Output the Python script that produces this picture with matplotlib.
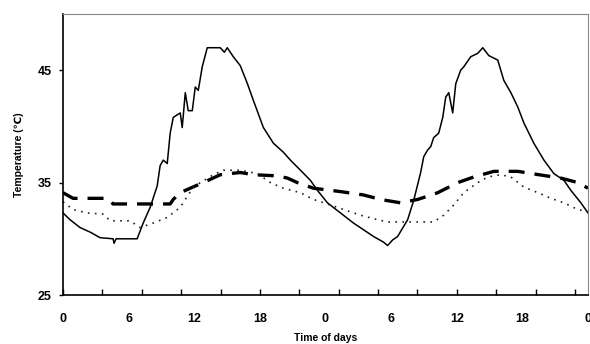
import matplotlib
matplotlib.use("Agg")
import matplotlib.pyplot as plt
import numpy as np

# Solid line (hours, temperature)
solid_h = [0, 0.64, 1.56, 2.47, 3.39, 4.58, 4.67, 4.85, 6.78, 7.33, 7.97, 8.61, 8.88, 9.16, 9.53,
           9.80, 10.08, 10.72, 10.90, 11.18, 11.45, 11.82, 12.09, 12.37, 12.73, 13.19, 14.38,
           14.75, 15.02, 15.57, 16.21, 16.86, 17.41, 18.32, 19.24, 20.15, 20.79, 21.71, 22.62,
           23.27, 24.18, 25.37, 26.56, 27.48, 28.40, 29.31, 29.68, 30.14, 30.59, 31.51, 32.06,
           32.70, 32.98, 33.34, 33.62, 33.89, 34.35, 34.72, 34.99, 35.27, 35.63, 35.91, 36.36,
           36.64, 37.28, 37.92, 38.38, 38.93, 39.75, 40.30, 40.95, 41.59, 42.14, 43.05, 43.97,
           44.88, 45.80, 46.44, 47.35, 48.0]
solid_t = [32.3, 31.7, 31.0, 30.6, 30.1, 30.0, 29.6, 30.0, 30.0, 31.4, 32.8, 34.7, 36.5, 37.0, 36.7,
           39.4, 40.8, 41.2, 39.9, 43.0, 41.4, 41.4, 43.5, 43.2, 45.3, 47.0, 47.0,
           46.6, 47.0, 46.2, 45.4, 43.8, 42.3, 39.9, 38.5, 37.7, 37.0, 36.1, 35.2,
           34.3, 33.2, 32.3, 31.4, 30.8, 30.2, 29.7, 29.4, 29.9, 30.2, 31.7, 33.4,
           35.9, 37.3, 37.9, 38.2, 39.0, 39.4, 40.8, 42.6, 43.0, 41.2, 43.8, 45.0,
           45.3, 46.2, 46.5, 47.0, 46.3, 45.9, 44.1, 43.0, 41.7, 40.3, 38.5, 37.0,
           35.8, 35.2, 34.3, 33.2, 32.3]

# Dashed line
dash_h = [0, 0.92, 4.12, 4.58, 9.80, 10.08, 10.72, 11.63, 12.82, 14.38, 16.21, 17.40, 19.60,
          20.52, 21.43, 22.90, 25.37, 27.48, 29.04, 30.87, 32.43, 34.26, 36.09, 37.56, 39.39,
          41.59, 43.51, 45.53, 47.08, 48.0]
dash_t = [34.1, 33.6, 33.6, 33.1, 33.1, 33.5, 34.1, 34.5, 35.0, 35.7, 35.9, 35.7, 35.6,
          35.4, 35.0, 34.5, 34.2, 33.9, 33.5, 33.2, 33.5, 34.1, 35.0, 35.5, 36.0,
          36.0, 35.7, 35.4, 35.0, 34.5]

# Dotted line
dot_h = [0, 0.92, 2.20, 3.66, 4.31, 6.14, 7.05, 8.24, 9.53, 10.72, 11.91, 13.74, 14.66, 16.21,
         17.77, 18.96, 20.15, 21.71, 22.90, 23.54, 25.37, 27.20, 28.76, 29.68, 33.89, 34.81,
         35.72, 36.64, 37.92, 38.84, 40.03, 40.95, 42.14, 43.42, 44.61, 45.80, 47.08, 48.0]
dot_t = [33.3, 32.6, 32.3, 32.2, 31.6, 31.6, 31.0, 31.4, 31.9, 32.8, 34.6, 35.7, 36.1, 36.1,
         35.8, 35.0, 34.5, 34.1, 33.5, 33.3, 32.7, 32.1, 31.7, 31.5, 31.5, 32.1,
         33.0, 34.1, 35.0, 35.5, 35.7, 35.5, 34.6, 34.1, 33.6, 33.2, 32.6, 32.4]

x_label_pos = [0, 6, 12, 18, 24, 30, 36, 42, 48]
x_label_txt = ["0", "6", "12", "18", "0", "6", "12", "18", "0"]
y_ticks = [25, 35, 45]

plt.rcParams['font.family'] = ['Liberation Sans', 'DejaVu Sans']

fig = plt.figure(figsize=(5.9, 3.44), dpi=100)
ax = fig.add_axes([63/590, 1-295/344, 525/590, 281/344])

ax.plot(solid_h, solid_t, color='black', lw=1.1)
ax.plot(dash_h, dash_t, color='black', lw=2.4, dashes=(4.8, 3.0))
ax.plot(dot_h, dot_t, color='#222222', lw=1.2, linestyle=(0, (1, 3.2)))

ax.set_xlim(0, 48)
ax.set_ylim(25, 50)

ax.xaxis.remove_overlapping_locs = False
ax.set_xticks(np.arange(0, 47, 3.6))
ax.set_xticklabels([])
ax.tick_params(axis='x', which='major', direction='in', length=4, width=1)
ax.set_xticks(x_label_pos, minor=True)
ax.set_xticklabels(x_label_txt, minor=True, fontsize=9, fontweight='bold')
ax.tick_params(axis='x', which='minor', length=0, pad=13)

ax.set_yticks(y_ticks)
ax.set_yticklabels([str(v) for v in y_ticks], fontsize=9, fontweight='bold')
ax.tick_params(axis='y', direction='out', length=3, width=1, pad=5)

for s in ['top', 'right']:
    ax.spines[s].set_linestyle((0, (1, 1)))
    ax.spines[s].set_color('#888888')
    ax.spines[s].set_linewidth(0.8)
for s in ['left', 'bottom']:
    ax.spines[s].set_linewidth(1.2)

ax.set_xlabel("Time of days", fontsize=7.5, fontweight='bold', labelpad=6)
ax.set_ylabel("Temperature (\u2103)", fontsize=7.5, fontweight='bold', labelpad=10)

fig.savefig("out.png", dpi=100)
